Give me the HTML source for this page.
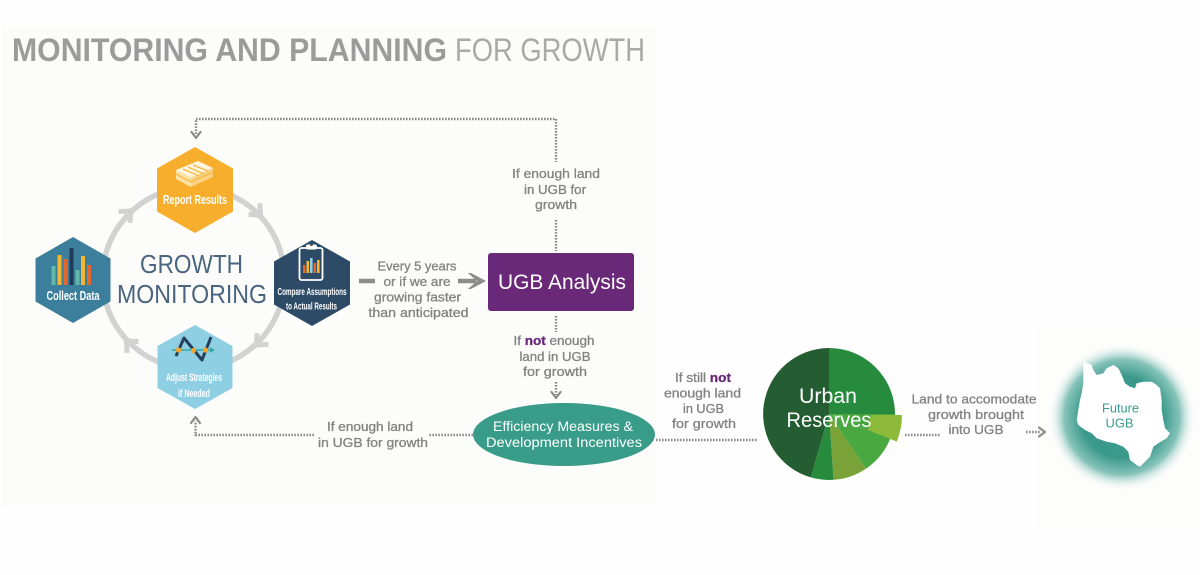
<!DOCTYPE html>
<html>
<head>
<meta charset="utf-8">
<style>
  html,body{margin:0;padding:0;background:#fefefe;}
  body{width:1200px;height:575px;overflow:hidden;}
  svg{display:block;}
  .g{font-family:"Liberation Sans",sans-serif;font-size:13px;fill:#828282;stroke:#828282;stroke-width:0.3;text-anchor:middle;}
  .hx{font-family:"Liberation Sans Narrow","Liberation Sans",sans-serif;font-weight:bold;fill:#fff;text-anchor:middle;}
  .dot{fill:none;stroke:#8a8a8a;stroke-width:2.4;stroke-dasharray:1.6 1.4;}
  .ah{fill:none;stroke:#8a8a8a;stroke-width:2.2;stroke-linecap:round;stroke-linejoin:round;}
</style>
</head>
<body>
<svg width="1200" height="575" viewBox="0 0 1200 575" xmlns="http://www.w3.org/2000/svg">
  <defs>
    <radialGradient id="fug" cx="1122" cy="417" r="74" gradientUnits="userSpaceOnUse">
      <stop offset="0" stop-color="#3c9b8d"/>
      <stop offset="0.55" stop-color="#3a998b"/>
      <stop offset="0.78" stop-color="#86c3b9"/>
      <stop offset="1" stop-color="#fefefe" stop-opacity="0"/>
    </radialGradient>
  </defs>

  <!-- background panels -->
  <rect x="0" y="0" width="1200" height="575" fill="#fefefe"/>
  <rect x="3" y="25" width="653" height="481" fill="#fcfcfb"/>
  <rect x="1037" y="330" width="163" height="196" fill="#fdfdfc"/>

  <!-- Title -->
  <text x="12" y="61" font-family="Liberation Sans, sans-serif" font-weight="bold" font-size="32" fill="#9b9b9b" textLength="435" lengthAdjust="spacingAndGlyphs">MONITORING AND PLANNING</text>
  <text x="455" y="61" font-family="Liberation Sans, sans-serif" font-size="32" fill="#a9a9a9" textLength="190" lengthAdjust="spacingAndGlyphs">FOR GROWTH</text>

  <!-- Ring -->
  <circle cx="193.5" cy="278" r="91" fill="none" stroke="#d2d2d2" stroke-width="5.5"/>
  <g fill="none" stroke="#d2d2d2" stroke-width="5" stroke-linejoin="miter">
    <path d="M -6 -8 L 3 0 L -6 8" transform="translate(128.5,213) rotate(-45)"/>
    <path d="M -6 -8 L 3 0 L -6 8" transform="translate(258.5,213) rotate(45)"/>
    <path d="M -6 -8 L 3 0 L -6 8" transform="translate(258.5,343) rotate(135)"/>
    <path d="M -6 -8 L 3 0 L -6 8" transform="translate(128.5,343) rotate(-135)"/>
  </g>

  <!-- GROWTH MONITORING -->
  <text x="191.5" y="273" font-family="Liberation Sans, sans-serif" font-size="26" fill="#4a6580" text-anchor="middle" textLength="103" lengthAdjust="spacingAndGlyphs">GROWTH</text>
  <text x="192" y="303" font-family="Liberation Sans, sans-serif" font-size="26" fill="#4a6580" text-anchor="middle" textLength="150" lengthAdjust="spacingAndGlyphs">MONITORING</text>

  <!-- Report Results hex -->
  <polygon points="195,147 233,168.5 233,211.5 195,233 157,211.5 157,168.5" fill="#f6ae2c"/>
  <polygon points="176,170 198,161 213,168 191,178" fill="#fff5dc"/>
  <polygon points="176,170 191,178 191,187 176,179" fill="#fde2a2"/>
  <polygon points="191,178 213,168 213,177 191,187" fill="#fbd282"/>
  <g stroke="#f6b947" stroke-width="1.3">
    <line x1="183" y1="169" x2="199" y2="176"/>
    <line x1="188" y1="167" x2="204" y2="174"/>
    <line x1="193" y1="165" x2="208" y2="171"/>
    <line x1="176" y1="174" x2="191" y2="182"/>
    <line x1="191" y1="182" x2="213" y2="172"/>
  </g>
  <text class="hx" x="195" y="204" font-size="13" textLength="64" lengthAdjust="spacingAndGlyphs">Report Results</text>

  <!-- Collect Data hex -->
  <polygon points="73,237 110.5,258.5 110.5,301.5 73,323 35.5,301.5 35.5,258.5" fill="#3b7f9c"/>
  <rect x="51.5" y="266" width="4" height="19" fill="#63b9a8"/>
  <rect x="57.5" y="255" width="4" height="30" fill="#f4b52f"/>
  <rect x="63.5" y="259" width="4" height="26" fill="#e4672d"/>
  <rect x="69.5" y="248" width="4" height="37" fill="#1f3b58"/>
  <rect x="75.5" y="270" width="4" height="15" fill="#63b9a8"/>
  <rect x="81" y="256" width="4" height="29" fill="#f4b52f"/>
  <rect x="87" y="265" width="4" height="20" fill="#e4672d"/>
  <text class="hx" x="73" y="300" font-size="13" textLength="53" lengthAdjust="spacingAndGlyphs">Collect Data</text>

  <!-- Compare hex -->
  <polygon points="312,240 350,261.5 350,304.5 312,326 274,304.5 274,261.5" fill="#2d4a66"/>
  <rect x="299.5" y="248" width="23" height="32" rx="2" fill="none" stroke="#ffffff" stroke-width="1.8"/>
  <rect x="306" y="244.5" width="11" height="5" rx="2" fill="#ffffff"/>
  <circle cx="311.5" cy="245" r="1.2" fill="#2d4a66"/>
  <rect x="303" y="265" width="2.6" height="8" fill="#e4672d"/>
  <rect x="306.5" y="261" width="2.6" height="12" fill="#f4b52f"/>
  <rect x="310" y="258" width="2.6" height="15" fill="#8fd0e6"/>
  <rect x="313.5" y="263" width="2.6" height="10" fill="#e4672d"/>
  <rect x="317" y="260" width="2.6" height="13" fill="#f4b52f"/>
  <text class="hx" x="312" y="295" font-size="10.5" textLength="69" lengthAdjust="spacingAndGlyphs">Compare Assumptions</text>
  <text class="hx" x="311.5" y="309.5" font-size="10.5" textLength="51" lengthAdjust="spacingAndGlyphs">to Actual Results</text>

  <!-- Adjust hex -->
  <polygon points="195,325 232.5,346 232.5,388 195,409 157.5,388 157.5,346" fill="#8fcfe4"/>
  <line x1="172" y1="350" x2="211" y2="350" stroke="#3aa8a0" stroke-width="1.6"/>
  <polygon points="210,347 215,350 210,353" fill="#3aa8a0"/>
  <path d="M176 356 L184 338 L202 360 L211 337" fill="none" stroke="#26405c" stroke-width="3" stroke-linejoin="round"/>
  <circle cx="178.5" cy="350" r="2.6" fill="#f4a62a"/>
  <circle cx="193.5" cy="350.5" r="2.6" fill="#f4a62a"/>
  <circle cx="205.5" cy="350" r="2.6" fill="#f4a62a"/>
  <text class="hx" x="194" y="381" font-size="11" textLength="56" lengthAdjust="spacingAndGlyphs">Adjust Strategies</text>
  <text class="hx" x="194" y="397" font-size="11" textLength="32" lengthAdjust="spacingAndGlyphs">if Needed</text>

  <!-- Top dotted loop -->
  <path class="dot" d="M196 134 V119 H556 V162"/>
  <path class="ah" d="M191.5 132 L196 138 L200.5 132"/>
  <path class="dot" d="M556 220 V251"/>
  <text class="g" x="556" y="178" textLength="88" lengthAdjust="spacingAndGlyphs">If enough land</text>
  <text class="g" x="555" y="194" textLength="62" lengthAdjust="spacingAndGlyphs">in UGB for</text>
  <text class="g" x="556" y="209" textLength="42" lengthAdjust="spacingAndGlyphs">growth</text>

  <!-- Every 5 years arrow -->
  <line x1="359" y1="281" x2="375" y2="281" stroke="#8c8c8c" stroke-width="4.5"/>
  <line x1="458" y1="281" x2="476" y2="281" stroke="#8c8c8c" stroke-width="4.5"/>
  <polygon points="471,273 486,281 471,289 468,289 477,281 468,273" fill="#8c8c8c"/>
  <text class="g" x="417" y="270.5" textLength="79" lengthAdjust="spacingAndGlyphs">Every 5 years</text>
  <text class="g" x="417" y="286" textLength="67" lengthAdjust="spacingAndGlyphs">or if we are</text>
  <text class="g" x="417.5" y="301.5" textLength="87" lengthAdjust="spacingAndGlyphs">growing faster</text>
  <text class="g" x="418.5" y="317" textLength="100" lengthAdjust="spacingAndGlyphs">than anticipated</text>

  <!-- UGB Analysis -->
  <rect x="488" y="253" width="146" height="58" rx="3" fill="#6a2878"/>
  <text x="562" y="289" font-family="Liberation Sans, sans-serif" font-size="21" fill="#ffffff" text-anchor="middle" textLength="128" lengthAdjust="spacingAndGlyphs">UGB Analysis</text>

  <!-- If not enough -->
  <path class="dot" d="M556 316 V332"/>
  <text class="g" x="554" y="345" textLength="81" lengthAdjust="spacingAndGlyphs">If <tspan fill="#6a2878" stroke="#6a2878" font-weight="bold">not</tspan> enough</text>
  <text class="g" x="555" y="361" textLength="71" lengthAdjust="spacingAndGlyphs">land in UGB</text>
  <text class="g" x="555" y="376" textLength="64" lengthAdjust="spacingAndGlyphs">for growth</text>
  <path class="dot" d="M556 382 V395"/>
  <path class="ah" d="M551.5 392 L556 398 L560.5 392"/>

  <!-- Efficiency ellipse -->
  <ellipse cx="564" cy="434.5" rx="91" ry="31.5" fill="#389c88"/>
  <text x="563" y="431" font-family="Liberation Sans, sans-serif" font-size="13.5" fill="#ffffff" text-anchor="middle" textLength="140" lengthAdjust="spacingAndGlyphs">Efficiency Measures &amp;</text>
  <text x="564" y="447" font-family="Liberation Sans, sans-serif" font-size="13.5" fill="#ffffff" text-anchor="middle" textLength="156" lengthAdjust="spacingAndGlyphs">Development Incentives</text>

  <!-- Bottom-left connector -->
  <path class="dot" d="M473 435 H428"/>
  <path class="dot" d="M314 435 H195.5 V421"/>
  <path class="ah" d="M191 423 L195.5 417 L200 423"/>
  <text class="g" x="370" y="431" textLength="86" lengthAdjust="spacingAndGlyphs">If enough land</text>
  <text class="g" x="373" y="447" textLength="110" lengthAdjust="spacingAndGlyphs">in UGB for growth</text>

  <!-- Right connector to Urban Reserves -->
  <path class="dot" d="M656 440 H758"/>
  <text class="g" x="703" y="382" textLength="56" lengthAdjust="spacingAndGlyphs">If still <tspan fill="#6a2878" stroke="#6a2878" font-weight="bold">not</tspan></text>
  <text class="g" x="702.5" y="397.5" textLength="77" lengthAdjust="spacingAndGlyphs">enough land</text>
  <text class="g" x="703.5" y="413" textLength="41" lengthAdjust="spacingAndGlyphs">in UGB</text>
  <text class="g" x="704" y="428" textLength="64" lengthAdjust="spacingAndGlyphs">for growth</text>

  <!-- Pie -->
  <path d="M829 414 L829 348 A66 66 0 0 1 895 414 Z" fill="#278b3d"/>
  <path d="M829 414 L895 414 A66 66 0 0 1 890.2 438.7 Z" fill="#46a53f"/>
  <path d="M829 414 L890.2 438.7 A66 66 0 0 1 865.9 468.7 Z" fill="#49a840"/>
  <path d="M829 414 L865.9 468.7 A66 66 0 0 1 833.6 479.8 Z" fill="#79a338"/>
  <path d="M829 414 L833.6 479.8 A66 66 0 0 1 810.8 477.4 Z" fill="#278b3d"/>
  <path d="M829 414 L810.8 477.4 A66 66 0 0 1 829 348 Z" fill="#245d31"/>
  <path d="M871 415 L902 415 A71 71 0 0 1 896.8 441.6 L868.1 430 Z" fill="#8dbb39"/>
  <text x="828" y="403" font-family="Liberation Sans, sans-serif" font-size="21" fill="#ffffff" text-anchor="middle" textLength="58" lengthAdjust="spacingAndGlyphs">Urban</text>
  <text x="829" y="427" font-family="Liberation Sans, sans-serif" font-size="21" fill="#ffffff" text-anchor="middle" textLength="85" lengthAdjust="spacingAndGlyphs">Reserves</text>

  <!-- Land to accomodate -->
  <text class="g" x="974" y="403.5" textLength="125" lengthAdjust="spacingAndGlyphs">Land to accomodate</text>
  <text class="g" x="976" y="419" textLength="96" lengthAdjust="spacingAndGlyphs">growth brought</text>
  <text class="g" x="976" y="434" textLength="55" lengthAdjust="spacingAndGlyphs">into UGB</text>
  <path class="dot" d="M905 435 H940"/>
  <path class="dot" d="M1026 432 H1040"/>
  <path class="ah" d="M1039 427.5 L1045 432 L1039 436.5"/>

  <!-- Future UGB -->
  <circle cx="1122" cy="417" r="74" fill="url(#fug)"/>
  <polygon fill="#ffffff" points="1083.3,361.7 1091.7,365 1093.3,370 1096.7,375 1103.3,373.3 1106.7,368.3 1113.3,365 1118.3,368.3 1121.7,375 1125,383.3 1130,386.7 1135,388.3 1136.7,383.3 1143.3,381.7 1151.7,381.7 1156.7,385 1160,388.3 1161.7,400 1161.7,410 1163.3,420 1165,428.3 1170,433.3 1166.7,438.3 1158.3,443.3 1153.3,446.7 1151.7,451.7 1150,456.7 1145,461.7 1140,466.7 1136.7,465 1130,460 1128.3,451.7 1123.3,446.7 1115,443.3 1106.7,441.7 1096.7,438.3 1091.7,433.3 1085,430 1078.3,425 1076.7,420 1078.3,410 1080,400 1081.7,393.3 1083.3,383.3 1083.3,373.3"/>
  <text x="1120.5" y="412.5" font-family="Liberation Sans, sans-serif" font-size="13" fill="#3a9c8d" text-anchor="middle" textLength="37" lengthAdjust="spacingAndGlyphs">Future</text>
  <text x="1119.5" y="427.5" font-family="Liberation Sans, sans-serif" font-size="13" fill="#3a9c8d" text-anchor="middle" textLength="28" lengthAdjust="spacingAndGlyphs">UGB</text>
</svg>
</body>
</html>
